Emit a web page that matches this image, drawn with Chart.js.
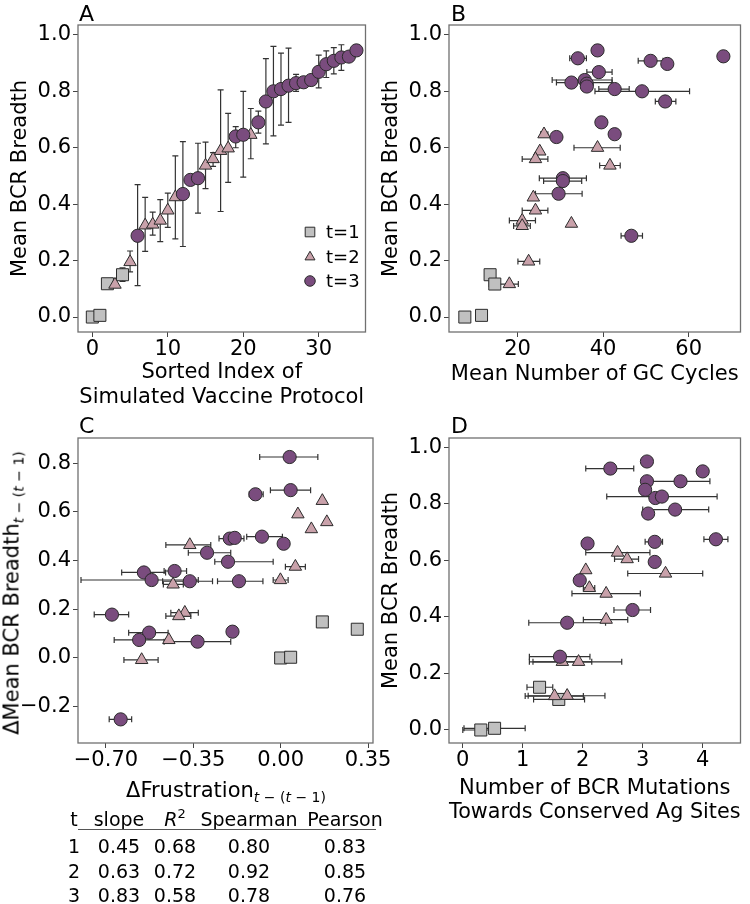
<!DOCTYPE html>
<html>
<head>
<meta charset="utf-8">
<script src="https://cdn.jsdelivr.net/npm/chart.js@4.4.1/dist/chart.umd.min.js"></script>
<style>
  body { margin: 0; background: #fff; }
  #fig { position: relative; width: 750px; height: 904px; overflow: hidden;
         font-family: 'DejaVu Sans', sans-serif; color: #000; }
  #fig canvas { position: absolute; }
  .txt { position: absolute; white-space: nowrap; line-height: 1; }
  .sub { font-size: 14px; position: relative; top: 0.35em; }
</style>
</head>
<body>
<div id="fig">
  <canvas id="pA" width="375" height="410" style="left:0;top:0;width:375px;height:410px"></canvas>
  <canvas id="pB" width="375" height="410" style="left:375px;top:0;width:375px;height:410px"></canvas>
  <canvas id="pC" width="400" height="390" style="left:0;top:410px;width:400px;height:390px"></canvas>
  <canvas id="pD" width="375" height="430" style="left:375px;top:410px;width:375px;height:430px"></canvas>

  <div class="txt" style="left:79px;top:3px;font-size:22px">A</div>
  <div class="txt" style="left:451px;top:3px;font-size:22px">B</div>
  <div class="txt" style="left:79px;top:415px;font-size:22px">C</div>
  <div class="txt" style="left:451px;top:415px;font-size:22px">D</div>

  <div class="txt" style="left:12px;top:593px;font-size:21px;transform:translate(-50%,-50%) rotate(-90deg)">ΔMean BCR Breadth<span class="sub"><i>t</i> − (<i>t</i> − 1)</span></div>
  <div class="txt" style="left:226px;top:790px;font-size:21px;transform:translate(-50%,-50%)">ΔFrustration<span class="sub"><i>t</i> − (<i>t</i> − 1)</span></div>

  <div id="tbl"></div>
</div>

<script>
// ---- data: [x, y, errLow, errHigh] per protocol ----
// panel A: sorted index vs breadth (vertical error)
const a_t1 = [[0, 0.0], [1, 0.006], [2, 0.118], [4, 0.15, 0.126, 0.174]];
const a_t2 = [[3, 0.115], [5, 0.195, 0.16, 0.234], [7, 0.325, 0.233, 0.424], [8, 0.328, 0.29, 0.372],
  [9, 0.342, 0.267, 0.416], [10, 0.378, 0.318, 0.439], [11, 0.425, 0.277, 0.571], [15, 0.537, 0.455, 0.62],
  [16, 0.56, 0.534, 0.583], [17, 0.589, 0.374, 0.805], [18, 0.598, 0.477, 0.722], [21, 0.646, 0.561, 0.739]];
const a_t3 = [[6, 0.288, 0.111, 0.469], [12, 0.436, 0.25, 0.622], [13, 0.486], [14, 0.492, 0.368, 0.616],
  [19, 0.64, 0.60, 0.675], [20, 0.646, 0.496, 0.80], [22, 0.69, 0.652, 0.73], [23, 0.764, 0.614, 0.916],
  [24, 0.80, 0.642, 0.959], [25, 0.808, 0.68, 0.935], [26, 0.82, 0.69, 0.953], [27, 0.829, 0.80, 0.86],
  [28, 0.832], [29, 0.84], [30, 0.869, 0.812, 0.928], [31, 0.896, 0.849, 0.943], [32, 0.908, 0.862, 0.955],
  [33, 0.92, 0.874, 0.965], [34, 0.923], [35, 0.945]];

// panel B: GC cycles vs breadth (horizontal error)
const b_t1 = [[7.7, 0.0], [11.6, 0.006], [13.6, 0.15], [14.7, 0.117, 13.4, 15.4]];
const b_t2 = [[26.2, 0.648, 25.4, 27.1], [25.2, 0.587], [24.2, 0.56, 21.1, 27.1], [38.7, 0.60, 33.2, 44.0],
  [41.6, 0.537, 39.2, 44.0], [23.7, 0.424], [24.2, 0.378, 21.1, 27.1], [21.1, 0.342, 18.1, 24.2],
  [21.1, 0.323, 19.1, 23.0], [32.6, 0.331], [22.6, 0.197, 20.1, 25.2], [18.1, 0.117, 15.7, 20.2]];
const b_t3 = [[38.7, 0.945], [34.1, 0.917, 32.2, 36.1], [51.1, 0.908, 48.2, 54.0], [55.0, 0.897], [68.1, 0.924],
  [39.0, 0.868, 36.2, 42.1], [32.6, 0.831, 29.1, 42.1], [35.7, 0.84, 28.1, 42.1], [36.2, 0.827], [36.2, 0.817],
  [42.7, 0.808, 39.0, 46.1], [49.1, 0.80, 38.1, 60.2], [54.5, 0.764, 52.2, 57.0], [39.6, 0.69],
  [42.7, 0.648, 41.9, 43.7], [29.1, 0.638], [30.6, 0.492, 25.1, 36.1], [30.6, 0.482, 26.1, 35.0],
  [29.6, 0.437, 24.2, 35.1], [46.6, 0.288, 44.2, 49.2]];

// panel C: change in frustration vs change in breadth
const c_t1 = [[0.0, 0.0], [0.04, 0.003], [0.167, 0.148], [0.307, 0.118]];
const c_t2 = [[0.167, 0.645], [0.069, 0.59], [0.185, 0.558], [0.123, 0.529], [-0.364, 0.464, -0.46, -0.28],
  [0.059, 0.375, 0.019, 0.099], [-0.001, 0.32, -0.03, 0.03], [-0.431, 0.302, -0.47, -0.39],
  [-0.384, 0.186, -0.44, -0.33], [-0.408, 0.172, -0.46, -0.36], [-0.448, 0.074], [-0.557, -0.008, -0.628, -0.491]];
const c_t3 = [[0.036, 0.825, -0.084, 0.149], [0.04, 0.689, -0.041, 0.12], [-0.101, 0.672, -0.126, -0.07],
  [-0.075, 0.498, -0.136, 0.007], [0.012, 0.469], [-0.204, 0.49, -0.247, -0.147], [-0.184, 0.493],
  [-0.295, 0.432, -0.37, -0.20], [-0.211, 0.395, -0.264, -0.03], [-0.548, 0.351, -0.637, -0.461],
  [-0.425, 0.357, -0.467, -0.377], [-0.517, 0.32, -0.80, -0.33], [-0.364, 0.315, -0.473, -0.273],
  [-0.167, 0.315, -0.253, -0.071], [-0.676, 0.178, -0.747, -0.609], [-0.527, 0.104, -0.609, -0.451],
  [-0.567, 0.074, -0.667, -0.457], [-0.333, 0.067, -0.467, -0.2], [-0.193, 0.108], [-0.641, -0.252, -0.687, -0.597]];

// panel D: conserved-site mutations vs breadth
const d_t1 = [[0.30, 0.0, 0.0, 0.55], [0.53, 0.006, 0.02, 1.04], [1.28, 0.151, 1.07, 1.50], [1.60, 0.108, 1.18, 2.03]];
const d_t2 = [[2.58, 0.627, 2.05, 3.12], [2.74, 0.604, 2.53, 2.93], [2.05, 0.565], [3.38, 0.553, 2.75, 4.0],
  [2.11, 0.502, 2.01, 2.2], [2.39, 0.482, 1.82, 2.96], [2.39, 0.39, 2.01, 2.75], [1.66, 0.241, 1.17, 2.15],
  [1.93, 0.241, 1.11, 2.65], [1.53, 0.12, 1.04, 2.01], [1.74, 0.121, 1.09, 2.37]];
const d_t3 = [[3.07, 0.949], [2.46, 0.924, 2.05, 2.85], [4.0, 0.914], [3.07, 0.879], [3.63, 0.879, 3.13, 4.12],
  [3.04, 0.849], [3.21, 0.82], [3.32, 0.825, 2.40, 4.24], [3.54, 0.779, 3.0, 4.1], [3.09, 0.765],
  [4.22, 0.674, 4.02, 4.42], [3.20, 0.665, 3.04, 3.33], [2.08, 0.659], [3.20, 0.594], [1.95, 0.529],
  [2.83, 0.424, 2.52, 3.13], [1.74, 0.379, 1.10, 2.38], [1.62, 0.259, 1.11, 2.12]];

const seriesLabels = ['t=1', 't=2', 't=3'];

// ticks
const breadthTicks = [0, 0.2, 0.4, 0.6, 0.8, 1.0];
const aTicksX = [0, 10, 20, 30];
const bTicksX = [20, 40, 60];
const cTicksX = [-0.70, -0.35, 0.00, 0.35];
const cTicksY = [-0.2, 0, 0.2, 0.4, 0.6, 0.8];
const dTicksX = [0, 1, 2, 3, 4];

// fit table
const tableHeader = ['t', 'slope', 'R2', 'Spearman', 'Pearson'];
const tableT = ['1', '2', '3'];
const tableSlope = [0.45, 0.63, 0.83];
const tableR2 = [0.68, 0.72, 0.58];
const tableSpearman = [0.80, 0.92, 0.78];
const tablePearson = [0.83, 0.85, 0.76];

// ---- styles ----
const styles = [
  { fill: '#c0c0c0', shape: 'rect', r: 8.5 },
  { fill: '#c9a1aa', shape: 'triangle', r: 7.2 },
  { fill: '#7a4c7e', shape: 'circle', r: 6.6 }
];
const EDGE = '#2b2b2b';

Chart.defaults.font.family = "'DejaVu Sans', sans-serif";
Chart.defaults.color = '#000';

function fmt(dec) {
  return v => v.toFixed(dec).replace('-', '\u2212');
}

const errorBars = {
  id: 'errorBars',
  beforeDatasetsDraw(chart) {
    const { ctx, scales: { x: xs, y: ys } } = chart;
    const cap = 3;
    ctx.save();
    ctx.beginPath();
    ctx.rect(chart.chartArea.left, chart.chartArea.top, chart.chartArea.width, chart.chartArea.height);
    ctx.clip();
    ctx.strokeStyle = '#333';
    ctx.lineWidth = 1.2;
    chart.data.datasets.forEach(ds => {
      ds.data.forEach(p => {
        if (p.lo == null) return;
        ctx.beginPath();
        if (ds.errAxis === 'y') {
          const px = xs.getPixelForValue(p.x);
          const y1 = ys.getPixelForValue(p.lo), y2 = ys.getPixelForValue(p.hi);
          ctx.moveTo(px, y1); ctx.lineTo(px, y2);
          ctx.moveTo(px - cap, y1); ctx.lineTo(px + cap, y1);
          ctx.moveTo(px - cap, y2); ctx.lineTo(px + cap, y2);
        } else {
          const py = ys.getPixelForValue(p.y);
          const x1 = xs.getPixelForValue(p.lo), x2 = xs.getPixelForValue(p.hi);
          ctx.moveTo(x1, py); ctx.lineTo(x2, py);
          ctx.moveTo(x1, py - cap); ctx.lineTo(x1, py + cap);
          ctx.moveTo(x2, py - cap); ctx.lineTo(x2, py + cap);
        }
        ctx.stroke();
      });
    });
    ctx.restore();
  }
};

const frame = {
  id: 'frame',
  afterDraw(chart) {
    const { ctx, chartArea: a } = chart;
    ctx.save();
    ctx.strokeStyle = '#707070';
    ctx.lineWidth = 1.3;
    ctx.strokeRect(a.left, a.top, a.width, a.height);
    ctx.restore();
  }
};

function drawMarker(ctx, shape, x, y, r) {
  ctx.beginPath();
  if (shape === 'circle') {
    ctx.arc(x, y, r, 0, Math.PI * 2);
  } else if (shape === 'rect') {
    const s = r * Math.SQRT1_2;
    ctx.rect(x - s, y - s, 2 * s, 2 * s);
  } else {
    ctx.moveTo(x, y - r);
    ctx.lineTo(x + r * 0.866, y + r * 0.5);
    ctx.lineTo(x - r * 0.866, y + r * 0.5);
    ctx.closePath();
  }
  ctx.fill();
  ctx.stroke();
}

// legend inside panel A
const cornerLegend = {
  id: 'cornerLegend',
  afterDraw(chart) {
    const ctx = chart.ctx;
    const rows = [232, 257, 281];
    ctx.save();
    ctx.font = "18px 'DejaVu Sans'";
    ctx.textBaseline = 'middle';
    seriesLabels.forEach((lab, i) => {
      ctx.fillStyle = styles[i].fill;
      ctx.strokeStyle = EDGE;
      ctx.lineWidth = 1;
      drawMarker(ctx, styles[i].shape, 310, rows[i], styles[i].r * 0.8);
      ctx.fillStyle = '#000';
      ctx.fillText(lab, 326, rows[i] + 1);
    });
    ctx.restore();
  }
};

function toPoints(rows) {
  return rows.map(r => ({ x: r[0], y: r[1], lo: r.length > 2 ? r[2] : null, hi: r.length > 3 ? r[3] : null }));
}

function makePanel(id, cfg) {
  const datasets = cfg.groups.map((g, i) => ({
    label: seriesLabels[i],
    data: toPoints(g),
    errAxis: cfg.errAxis,
    order: 3 - i,
    pointStyle: styles[i].shape,
    pointRadius: styles[i].r,
    pointHoverRadius: styles[i].r,
    backgroundColor: styles[i].fill,
    borderColor: EDGE,
    borderWidth: 1,
    showLine: false
  }));

  const tickFont = { size: 21, lineHeight: 1 };
  const grid = { display: true, drawOnChartArea: false, drawTicks: true, tickLength: 5, color: '#444', lineWidth: 1 };

  new Chart(document.getElementById(id), {
    type: 'scatter',
    data: { datasets },
    options: {
      responsive: false,
      animation: false,
      events: [],
      layout: { padding: cfg.pad },
      plugins: { legend: { display: false }, tooltip: { enabled: false } },
      scales: {
        x: {
          type: 'linear',
          min: cfg.xRange[0], max: cfg.xRange[1],
          grid, border: { display: false },
          ticks: { font: tickFont, padding: 2, callback: fmt(cfg.xDec), maxRotation: 0 },
          afterBuildTicks: s => { s.ticks = cfg.xTicks.map(v => ({ value: v })); },
          afterFit: s => { s.height = cfg.xH; },
          title: cfg.xTitle ? {
            display: true, text: cfg.xTitle, font: { size: 21, lineHeight: cfg.xTitleLH || 1.17 },
            padding: { top: 0, bottom: cfg.xTitlePad }
          } : { display: false }
        },
        y: {
          type: 'linear',
          min: cfg.yRange[0], max: cfg.yRange[1],
          grid, border: { display: false },
          ticks: { font: tickFont, padding: 2, callback: fmt(1) },
          afterBuildTicks: s => { s.ticks = cfg.yTicks.map(v => ({ value: v })); },
          afterFit: s => { s.width = cfg.yW; },
          title: cfg.yTitle ? {
            display: true, text: cfg.yTitle, font: { size: 21, lineHeight: 1.2 },
            padding: { top: cfg.yTitlePad, bottom: 0 }
          } : { display: false }
        }
      }
    },
    plugins: cfg.legend ? [errorBars, frame, cornerLegend] : [errorBars, frame]
  });
}

makePanel('pA', {
  groups: [a_t1, a_t2, a_t3], errAxis: 'y',
  pad: { top: 25, right: 2, left: 0, bottom: 0 }, yW: 78, xH: 78,
  xRange: [-1.9, 36.2], yRange: [-0.053, 1.035], xTicks: aTicksX, yTicks: breadthTicks, xDec: 0,
  xTitle: ['Sorted Index of', 'Simulated Vaccine Protocol'], xTitlePad: 0, xTitleLH: 1.2,
  yTitle: 'Mean BCR Breadth', yTitlePad: 8, legend: true
});

makePanel('pB', {
  groups: [b_t1, b_t2, b_t3], errAxis: 'x',
  pad: { top: 25, right: 3, left: 0, bottom: 0 }, yW: 74, xH: 78,
  xRange: [4.0, 72.1], yRange: [-0.053, 1.035], xTicks: bTicksX, yTicks: breadthTicks, xDec: 0,
  xTitle: 'Mean Number of GC Cycles', xTitlePad: 23,
  yTitle: 'Mean BCR Breadth', yTitlePad: 4
});

makePanel('pC', {
  groups: [c_t1, c_t2, c_t3], errAxis: 'x',
  pad: { top: 28, right: 27, left: 0, bottom: 0 }, yW: 78, xH: 57,
  xRange: [-0.812, 0.37], yRange: [-0.349, 0.903], xTicks: cTicksX, yTicks: cTicksY, xDec: 2
});

makePanel('pD', {
  groups: [d_t1, d_t2, d_t3], errAxis: 'x',
  pad: { top: 28, right: 3, left: 0, bottom: 0 }, yW: 74, xH: 97,
  xRange: [-0.23, 4.63], yRange: [-0.046, 1.032], xTicks: dTicksX, yTicks: breadthTicks, xDec: 0,
  xTitle: ['Number of BCR Mutations', 'Towards Conserved Ag Sites'], xTitlePad: 15,
  yTitle: 'Mean BCR Breadth', yTitlePad: 4
});

// ---- table under panel C ----
(function buildTable() {
  const tbl = document.getElementById('tbl');
  const centers = [74, 119, 175, 249, 345];
  const rowsY = [846, 871, 895];
  function cell(html, cx, cy) {
    const d = document.createElement('div');
    d.className = 'txt';
    d.style.cssText = `left:${cx - 70}px;top:${cy - 10}px;width:140px;text-align:center;font-size:19px;line-height:20px`;
    d.innerHTML = html;
    tbl.appendChild(d);
  }
  tableHeader.forEach((h, i) => {
    const html = h === 'R2' ? '<i>R</i><span style="font-size:13px;position:relative;top:-0.6em">2</span>' : h;
    cell(html, centers[i], 819);
  });
  const line = document.createElement('div');
  line.style.cssText = 'position:absolute;left:78px;top:829px;width:298px;height:0;border-top:1.3px solid #555';
  tbl.appendChild(line);
  tableT.forEach((t, r) => {
    const vals = [t, tableSlope[r].toFixed(2), tableR2[r].toFixed(2), tableSpearman[r].toFixed(2), tablePearson[r].toFixed(2)];
    vals.forEach((v, i) => cell(v, centers[i], rowsY[r]));
  });
})();
</script>
</body>
</html>
